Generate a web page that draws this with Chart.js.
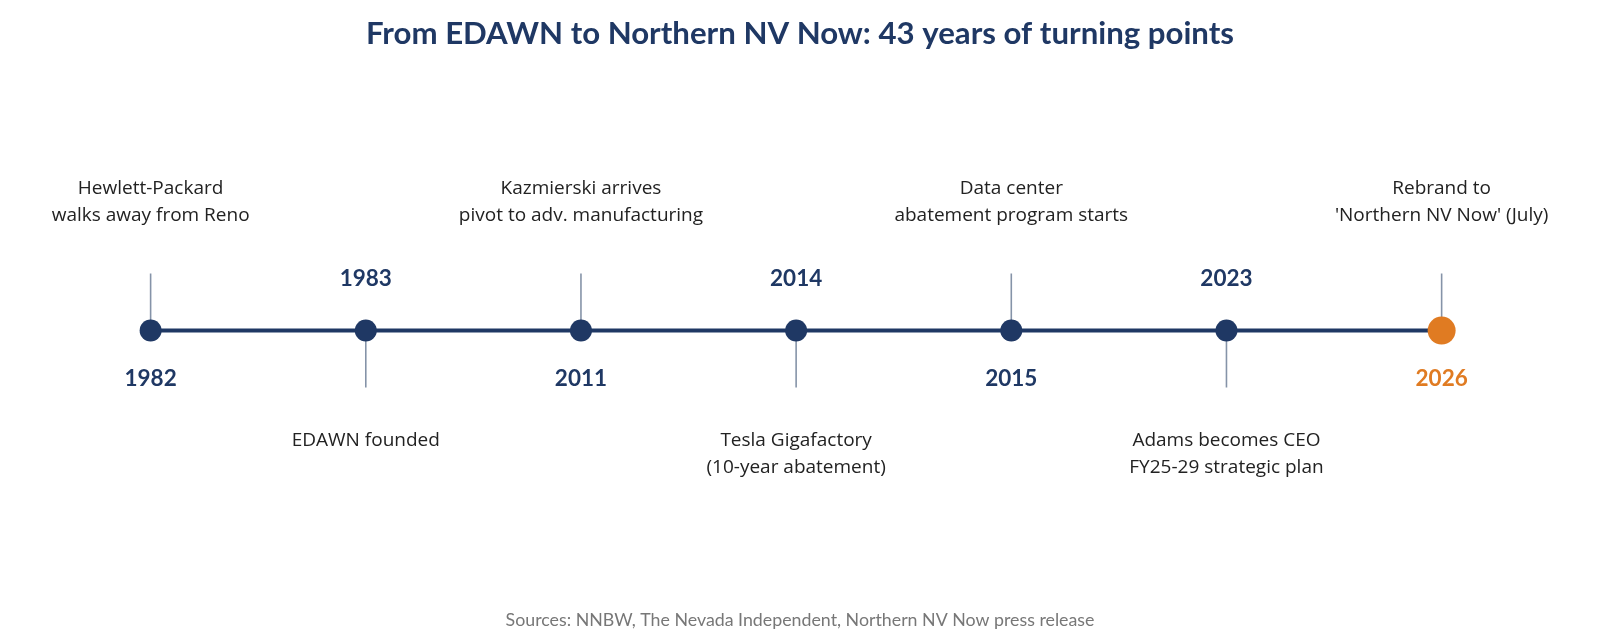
<!DOCTYPE html>
<html>
<head>
<meta charset="utf-8">
<script src="https://cdn.jsdelivr.net/npm/chart.js@4.4.1/dist/chart.umd.min.js"></script>
<style>
  html, body { margin: 0; padding: 0; background: #fff; }
  #timeline { display: block; }
</style>
</head>
<body>
<canvas id="timeline" width="1600" height="640"></canvas>
<script>
  // timeline data
  const years = ["1982", "1983", "2011", "2014", "2015", "2023", "2026"];
  const events = [
    ["Hewlett-Packard", "walks away from Reno"],
    ["EDAWN founded"],
    ["Kazmierski arrives", "pivot to adv. manufacturing"],
    ["Tesla Gigafactory", "(10-year abatement)"],
    ["Data center", "abatement program starts"],
    ["Adams becomes CEO", "FY25-29 strategic plan"],
    ["Rebrand to", "'Northern NV Now' (July)"]
  ];
  const sides = [1, -1, 1, -1, 1, -1, 1]; // 1 = text above the line, -1 = below

  const NAVY = "#1f3864";
  const ORANGE = "#e07b22";
  const STEM = "#8593a8";
  const HEAD_FONT = "Lato, 'Noto Sans', sans-serif";
  const BODY_FONT = "'Open Sans', 'Noto Sans', sans-serif";

  const lastIdx = years.length - 1;
  const stemLen = 57;

  // main line points
  const linePoints = years.map((y, i) => ({ x: i, y: 0 }));

  // stems as one dataset broken by NaN gaps
  const stemPoints = [];
  sides.forEach((s, i) => {
    stemPoints.push({ x: i, y: 0 }, { x: i, y: s * stemLen }, { x: i, y: NaN });
  });

  const labelPlugin = {
    id: "timelineLabels",
    afterDatasetsDraw(chart) {
      const { ctx, scales: { x, y } } = chart;
      ctx.save();
      ctx.textAlign = "center";
      ctx.textBaseline = "middle";
      years.forEach((yr, i) => {
        const px = x.getPixelForValue(i);
        const side = sides[i];
        // year label on the opposite side of the stem
        ctx.font = "bold 22.5px " + HEAD_FONT;
        ctx.fillStyle = i === lastIdx ? ORANGE : NAVY;
        const yearY = side > 0 ? y.getPixelForValue(-48) : y.getPixelForValue(52);
        ctx.fillText(yr, px, yearY);

        // event text
        ctx.font = "19px " + BODY_FONT;
        ctx.fillStyle = "#222";
        const lines = events[i];
        const lh = 27;
        lines.forEach((ln, j) => {
          let ty;
          if (side > 0) {
            ty = y.getPixelForValue(115) - (lines.length - 1 - j) * lh;
          } else {
            ty = y.getPixelForValue(-110) + j * lh;
          }
          ctx.fillText(ln, px, ty);
        });
      });
      ctx.restore();
    }
  };

  new Chart(document.getElementById("timeline"), {
    type: "line",
    data: {
      datasets: [
        {
          label: "Timeline",
          data: linePoints,
          borderColor: NAVY,
          borderWidth: 4,
          pointRadius: linePoints.map((p, i) => i === lastIdx ? 14 : 11),
          pointBackgroundColor: linePoints.map((p, i) => i === lastIdx ? ORANGE : NAVY),
          pointBorderWidth: 0,
          order: 1
        },
        {
          label: "Stems",
          data: stemPoints,
          borderColor: STEM,
          borderWidth: 1.6,
          pointRadius: 0,
          spanGaps: false,
          order: 2
        }
      ]
    },
    options: {
      responsive: false,
      animation: false,
      layout: { padding: 0, autoPadding: false },
      scales: {
        x: { type: "linear", min: -0.700, max: 6.736, display: false },
        y: { type: "linear", min: -279, max: 278, display: false }
      },
      plugins: {
        legend: { display: false },
        tooltip: { enabled: false },
        title: {
          display: true,
          text: "From EDAWN to Northern NV Now: 43 years of turning points",
          color: NAVY,
          font: { family: HEAD_FONT, size: 31.2, weight: "bold" },
          padding: { top: 15, bottom: 0 }
        },
        subtitle: {
          display: true,
          position: "bottom",
          text: "Sources: NNBW, The Nevada Independent, Northern NV Now press release",
          color: "#777",
          font: { family: HEAD_FONT, size: 17.8 },
          padding: { top: 0, bottom: 9 }
        }
      }
    },
    plugins: [labelPlugin]
  });
</script>
</body>
</html>
